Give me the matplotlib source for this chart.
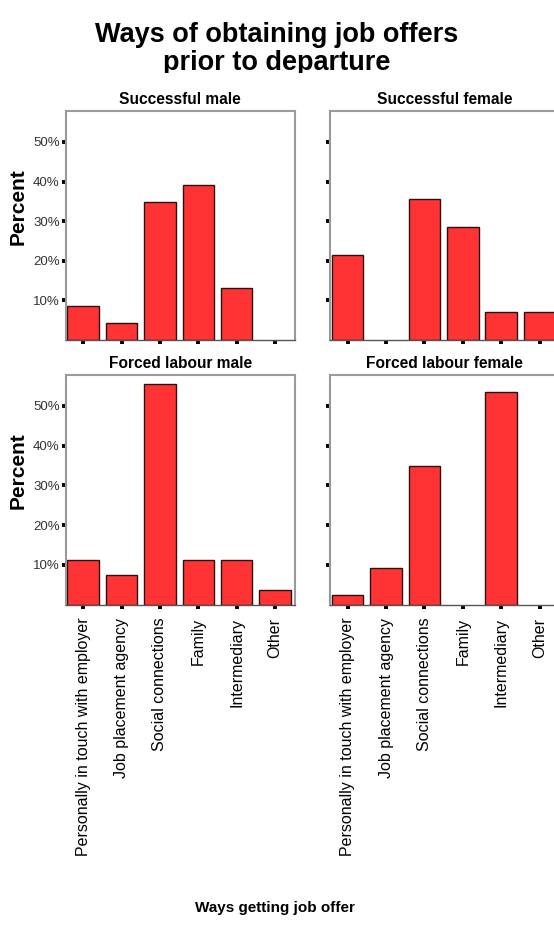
import matplotlib
matplotlib.use("Agg")
import matplotlib.pyplot as plt
from matplotlib.patches import Rectangle

plt.rcParams['font.family'] = ['Liberation Sans', 'DejaVu Sans']

categories = ["Personally in touch with employer", "Job placement agency",
              "Social connections", "Family", "Intermediary", "Other"]
successful_male = [8.7, 4.3, 34.8, 39.1, 13.0, 0.0]
successful_female = [21.4, 0.0, 35.7, 28.6, 7.1, 7.1]
forced_male = [11.1, 7.4, 55.6, 11.1, 11.1, 3.7]
forced_female = [2.3, 9.3, 34.9, 0.0, 53.5, 0.0]
ytick_vals = [10, 20, 30, 40, 50]
ytick_labels = ["10%", "20%", "30%", "40%", "50%"]

W, H = 554, 931
fig = plt.figure(figsize=(W / 100, H / 100), dpi=100)

def px_axes(x0, y0, x1, y1):
    return fig.add_axes([x0 / W, 1 - y1 / H, (x1 - x0) / W, (y1 - y0) / H])

panels = [
    ("Successful male", successful_male, (65.5, 111, 295, 340), True, False),
    ("Successful female", successful_female, (330, 111, 559.5, 340), False, False),
    ("Forced labour male", forced_male, (65.5, 375, 295, 604.5), True, True),
    ("Forced labour female", forced_female, (330, 375, 559.5, 604.5), False, True),
]

xs = list(range(len(categories)))
for title, vals, box, show_y, show_x in panels:
    ax = px_axes(*box)
    bars = ax.bar(xs, vals, width=0.82, color="#FF3333", edgecolor="#2a1010",
                  linewidth=1.0, zorder=2)
    for patch, v in zip(bars, vals):
        if v == 0:
            patch.set_visible(False)
    ax.set_xlim(-0.46, 5.52)
    ax.set_ylim(0, 57.8)
    for s in ["left", "top", "right"]:
        ax.spines[s].set_color("#9a9a9a")
        ax.spines[s].set_linewidth(1.5)
    ax.spines["bottom"].set_color("#555555")
    ax.spines["bottom"].set_linewidth(1.0)
    ax.set_yticks(ytick_vals)
    ax.set_xticks(xs)
    ax.tick_params(axis="both", direction="out", length=2.6, width=2.8, color="black")
    ax.tick_params(axis="y", pad=1.5)
    ax.tick_params(axis="x", pad=7)
    if show_y:
        ax.set_yticklabels(ytick_labels, fontsize=9.5, color="#333333")
        fig.text(18.5 / W, 1 - (box[1] + box[3] - 38) / 2 / H, "Percent", rotation=90,
                 ha="center", va="center", fontsize=15, fontweight="bold")
    else:
        ax.set_yticklabels([])
    if show_x:
        ax.set_xticklabels(categories, rotation=90, fontsize=11.5, color="black", va="top")
    else:
        ax.set_xticklabels([])
    ax.set_title(title, fontsize=11.2, fontweight="bold", pad=5)

fig.text(277 / W, 1 - 22 / H, "Ways of obtaining job offers\nprior to departure",
         ha="center", va="top", fontsize=19.5, fontweight="bold", linespacing=1.08, zorder=3)
fig.add_artist(Rectangle((0, 1 - 90 / H), 1, 17 / H, transform=fig.transFigure,
                         facecolor="white", edgecolor="none", zorder=4))

fig.text(275 / W, 1 - 908 / H, "Ways getting job offer", ha="center", va="center",
         fontsize=11, fontweight="bold")

fig.savefig("out.png", dpi=100)
